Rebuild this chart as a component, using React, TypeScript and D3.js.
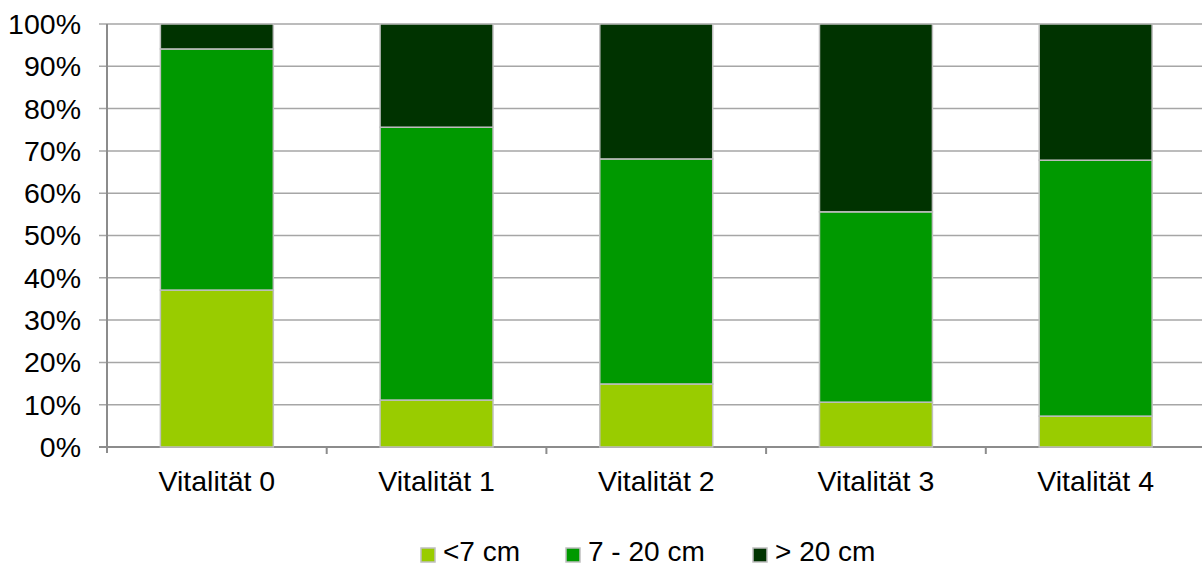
import React from "react";
import * as d3 from "d3";

const categories = ["Vitalität 0", "Vitalität 1", "Vitalität 2", "Vitalität 3", "Vitalität 4"];
const seriesNames = ["<7 cm", "7 - 20 cm", "> 20 cm"];
const small = [37.1, 11.1, 14.9, 10.6, 7.3];
const medium = [57.0, 64.5, 53.2, 45.0, 60.5];
const large = [5.9, 24.4, 31.9, 44.4, 32.2];
const yTicks = [0, 10, 20, 30, 40, 50, 60, 70, 80, 90, 100];
const colors = ["#99CC00", "#009900", "#003300"];

export default function App() {
  const W = 1202, H = 567;
  const left = 107, right = 1205.5, top = 24, bottom = 447;
  const x = d3.scaleBand<string>().domain(categories).range([left, right]).paddingInner(0.486).paddingOuter(0.243);
  const xb = d3.scaleBand<string>().domain(categories).range([left, right]);
  const y = d3.scaleLinear().domain([0, 100]).range([bottom, top]);
  const series = [small, medium, large];
  const stacked = categories.map((c, i) => {
    let acc = 0;
    return series.map((s, k) => {
      const y0 = acc; acc += s[i];
      return { c, k, y0, y1: acc };
    });
  });
  const font = "'Liberation Sans', Arial, sans-serif";
  const fs = 28.5;
  const legendItems = [
    { x: 421, tx: 443 },
    { x: 566, tx: 588 },
    { x: 753, tx: 775 },
  ];
  return (
    <svg width={W} height={H} style={{ position: "absolute", left: 0, top: 0 }} fontFamily={font}>
      <rect width={W} height={H} fill="#fff" />
      {yTicks.map((t) => (
        <g key={t}>
          <line x1={left - 8} x2={right} y1={y(t)} y2={y(t)} stroke={t === 0 ? "#8c8c8c" : "#a6a6a6"} strokeWidth={t === 0 ? 2 : 1.5} />
          <text x={81} y={y(t)} dy="0.35em" textAnchor="end" fontSize={fs} fill="#000">{t}%</text>
        </g>
      ))}
      <line x1={left} x2={left} y1={top} y2={bottom + 6} stroke="#8c8c8c" strokeWidth={2} />
      {categories.map((c) => (
        <line key={c} x1={xb(c)! + xb.bandwidth()} x2={xb(c)! + xb.bandwidth()} y1={bottom} y2={bottom + 7} stroke="#8c8c8c" strokeWidth={2} />
      ))}
      {stacked.map((segs) =>
        segs.map((s) => (
          <rect key={s.c + s.k} x={x(s.c)} width={x.bandwidth()} y={y(s.y1)} height={y(s.y0) - y(s.y1)} fill={colors[s.k]} stroke="#bfbfbf" strokeWidth={1.5} />
        ))
      )}
      {categories.map((c) => (
        <text key={c} x={xb(c)! + xb.bandwidth() / 2} y={491} textAnchor="middle" fontSize={fs} fill="#000">{c}</text>
      ))}
      {seriesNames.map((n, k) => (
        <g key={n}>
          <rect x={legendItems[k].x} y={548} width={14} height={14} fill={colors[k]} stroke="#bfbfbf" strokeWidth={1.5} />
          <text x={legendItems[k].tx} y={561} fontSize={28} fill="#000">{n}</text>
        </g>
      ))}
    </svg>
  );
}
